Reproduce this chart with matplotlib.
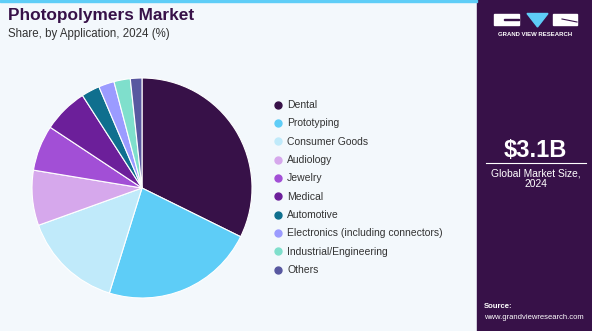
import matplotlib.pyplot as plt
from matplotlib.patches import Rectangle, Polygon

# Application shares, 2024 (%)
categories = ["Dental", "Prototyping", "Consumer Goods", "Audiology", "Jewelry",
              "Medical", "Automotive", "Electronics (including connectors)",
              "Industrial/Engineering", "Others"]
shares = [32.3, 22.5, 14.7, 8.1, 6.7, 6.6, 2.7, 2.3, 2.4, 1.7]
colors = ["#371148", "#5ECDF7", "#C0EAFA", "#D6A8EC", "#A24FD6",
          "#6C1F9A", "#0F6F8E", "#9B9BFF", "#7FDFCC", "#5858A0"]

market_size = "$3.1B"
market_label = "Global Market Size,\n2024"

W, H = 592, 331
bg = "#F3F8FC"
panel = "#371148"

plt.rcParams["font.family"] = ["Liberation Sans", "DejaVu Sans"]
fig = plt.figure(figsize=(W / 100, H / 100), dpi=100, facecolor=bg)

# full-figure overlay in pixel units
over = fig.add_axes([0, 0, 1, 1])
over.set_xlim(0, W)
over.set_ylim(H, 0)
over.axis("off")
over.add_patch(Rectangle((477, 0), W - 477, H, color=panel, zorder=0))
over.add_patch(Rectangle((0, 0), 477, 1.6, color="#5ECDF7", zorder=1))

over.text(8, 20, "Photopolymers Market", fontsize=12.4, fontweight="bold",
          color="#371148", va="baseline")
over.text(8, 37, "Share, by Application, 2024 (%)", fontsize=8.3,
          color="#333333", va="baseline")

# legend
for i, (name, c) in enumerate(zip(categories, colors)):
    y = 104.5 + i * 18.35
    over.plot(278, y, "o", ms=5, color=c)
    over.text(287, y + 0.5, name, fontsize=7.5, color="#333333", va="center")

# logo
over.add_patch(Rectangle((494, 14), 25, 11, color="white"))
over.add_patch(Rectangle((504, 19), 15, 1, color=panel))
over.add_patch(Polygon([(527, 13.5), (548, 13.5), (537.5, 27)], color="#5ECDF7"))
over.add_patch(Rectangle((553, 14), 24, 11, color="white"))
over.plot([562, 577], [19, 22], color=panel, lw=0.8)
over.text(535.5, 34.5, "GRAND VIEW RESEARCH", fontsize=4.3, fontweight="bold",
          color="white", ha="center", va="center")

# market size block
over.text(535.5, 157, market_size, fontsize=17, fontweight="bold",
          color="white", ha="center", va="baseline")
over.plot([486, 586], [162.7, 162.7], color="white", lw=0.8)
over.text(535.5, 168, market_label, fontsize=7.4, color="white",
          ha="center", va="top", linespacing=1.15)

over.text(484, 308.5, "Source:", fontsize=5.6, fontweight="bold",
          color="white", va="baseline")
over.text(484, 319, "www.grandviewresearch.com", fontsize=5.5,
          color="white", va="baseline")

# pie
cx, cy, r = 142, 188, 110
ax = fig.add_axes([(cx - r) / W, (H - cy - r) / H, 2 * r / W, 2 * r / H])
ax.pie(shares, colors=colors, startangle=90, counterclock=False,
       wedgeprops=dict(edgecolor="white", linewidth=0.8))
ax.set_xlim(-1, 1)
ax.set_ylim(-1, 1)
ax.set_aspect("auto")
ax.axis("off")

fig.savefig("out.png", dpi=100, facecolor=bg)
